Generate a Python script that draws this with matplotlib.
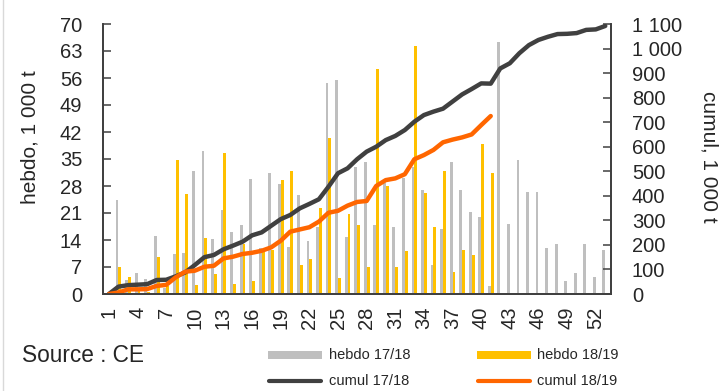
import numpy as np
import matplotlib
matplotlib.use("Agg")
import matplotlib.pyplot as plt
from matplotlib import font_manager
from matplotlib.patches import Rectangle
from matplotlib.lines import Line2D

# ---------------- data ----------------
week_labels = [str(i) for i in range(1, 54)]  # category labels
tick_every = 3

hebdo_1718 = [0, 24.5, 3.6, 5.5, 3.8, 15.0, 1.5, 10.4, 10.7, 31.8, 37.2,
              14.3, 21.7, 16.0, 17.8, 29.8, 12.0, 31.5, 28.4, 12.2, 25.6,
              13.8, 17.5, 54.8, 55.5, 14.7, 33.0, 34.2, 17.8, 28.9, 17.5,
              30.2, 32.8, 27.0, 7.6, 16.8, 34.2, 26.9, 21.3, 19.9, 2.2,
              65.3, 18.2, 34.7, 26.5, 26.5, 11.8, 12.9, 3.4, 5.4, 12.9,
              4.4, 11.5]
hebdo_1819 = [0, 6.9, 4.4, 1.0, 0.5, 9.7, 2.0, 34.7, 25.9, 2.3, 14.6,
              5.2, 36.5, 2.6, 13.0, 3.3, 11.0, 11.4, 29.5, 31.8, 7.5,
              9.0, 22.4, 40.4, 4.1, 20.7, 17.8, 6.9, 58.3, 28.0, 6.9,
              11.1, 64.3, 26.3, 17.5, 31.9, 5.8, 11.5, 10.0, 38.9, 31.5]
cumul_1718 = [0, 30, 36, 38, 40, 57, 58, 72, 88, 118, 150, 159, 182, 197,
              213, 239, 251, 278, 305, 322, 349, 367, 386, 437, 492, 512,
              549, 580, 600, 627, 644, 668, 702, 729, 743, 755, 784, 813,
              835, 858, 857, 919, 940, 981, 1014, 1035, 1048, 1059, 1060,
              1063, 1076, 1078, 1092]
cumul_1819 = [0, 6, 19, 19, 20, 33, 37, 68, 91, 95, 111, 115, 145, 152,
              163, 168, 176, 190, 217, 254, 263, 272, 295, 331, 339, 360,
              375, 379, 440, 464, 471, 488, 549, 566, 587, 618, 629, 638,
              650, 688, 725]

left_ticks = list(range(0, 71, 7))
right_ticks = list(range(0, 1101, 100))
right_tick_labels = ["0", "100", "200", "300", "400", "500", "600", "700",
                     "800", "900", "1 000", "1 100"]

labels_text = ["hebdo 17/18", "hebdo 18/19", "cumul 17/18", "cumul 18/19"]
source_text = "Source : CE"
ylabel_left = "hebdo, 1 000 t"
ylabel_right = "cumul, 1 000 t"

# ---------------- style ----------------
C_GRAY = "#BFBFBF"
C_YEL = "#FFC000"
C_DARK = "#404040"
C_ORG = "#FF6600"
C_TXT = "#262626"

def has_font(name):
    try:
        font_manager.findfont(font_manager.FontProperties(family=name),
                              fallback_to_default=False)
        return True
    except Exception:
        return False

BASE = ["Liberation Sans", "DejaVu Sans"]
NARROW = ["Liberation Sans Narrow"] + BASE if has_font("Liberation Sans Narrow") else BASE
legend_size = 12.5 if NARROW[0] == "Liberation Sans Narrow" else 10.5
plt.rcParams["font.family"] = BASE

W, H = 721, 391
fig = plt.figure(figsize=(W / 100, H / 100), dpi=100)
x0, x1, y0, y1 = 103, 611, 24, 294
ax = fig.add_axes([x0 / W, 1 - y1 / H, (x1 - x0) / W, (y1 - y0) / H])
ax2 = ax.twinx()

n = len(hebdo_1718)
x = np.arange(n)
bw = 0.30
ax.bar(x - 0.15, hebdo_1718, width=bw, color=C_GRAY, linewidth=0)
ax.bar(np.arange(len(hebdo_1819)) + 0.15, hebdo_1819, width=bw,
       color=C_YEL, linewidth=0)

ax2.plot(np.arange(len(cumul_1718)), cumul_1718, color=C_DARK, lw=3.2,
         solid_joinstyle="round", solid_capstyle="round")
ax2.plot(np.arange(len(cumul_1819)), cumul_1819, color=C_ORG, lw=3.2,
         solid_joinstyle="round", solid_capstyle="round")

ax.set_xlim(-0.62, n - 1 + 0.6)
ax.set_ylim(0, 70)
ax2.set_ylim(0, 1100)

ax.set_yticks(left_ticks)
ax.set_yticklabels([str(t) for t in left_ticks])
ax2.set_yticks(right_ticks)
ax2.set_yticklabels(right_tick_labels)

xt = list(range(0, n - 1, tick_every))
ax.set_xticks(xt)
ax.set_xticklabels([week_labels[i] for i in xt], rotation=90, va="top",
                   ha="center")

for a in (ax, ax2):
    for s in a.spines.values():
        s.set_color(C_DARK)
        s.set_linewidth(1.3)
    a.spines["top"].set_visible(False)
    a.tick_params(labelsize=14.5, labelcolor=C_TXT, colors=C_DARK)

ax.tick_params(axis="y", direction="in", length=6, width=1.1, pad=15)
ax2.tick_params(axis="y", direction="in", length=6, width=1.1, pad=15)
ax.tick_params(axis="x", length=0, pad=9)

fig.text(30 / W, 1 - 137 / H, ylabel_left, rotation=90, ha="center",
         va="center", fontsize=15, color=C_TXT)
fig.text(709 / W, 1 - 157 / H, ylabel_right, rotation=-90, ha="center",
         va="center", fontsize=15, color=C_TXT)

# footer: source + legend
fig.text(22 / W, 1 - 356 / H, source_text, ha="left", va="center",
         fontsize=16.3, color=C_TXT)

def px_rect(xa, ya, w, h, color):
    fig.add_artist(Rectangle((xa / W, 1 - (ya + h) / H), w / W, h / H,
                             transform=fig.transFigure, color=color, lw=0))

def px_line(xa, xb, yy, color):
    fig.add_artist(Line2D([xa / W, xb / W], [1 - yy / H, 1 - yy / H],
                          transform=fig.transFigure, color=color, lw=3.0,
                          solid_capstyle="round"))

px_rect(268, 351, 54, 8, C_GRAY)
px_rect(477, 351, 54, 8, C_YEL)
px_line(269, 321, 381, C_DARK)
px_line(478, 530, 381, C_ORG)
for (tx, ty), t in zip([(329, 355), (537, 355), (329, 381), (537, 381)],
                       labels_text):
    fig.text(tx / W, 1 - ty / H, t, ha="left", va="center",
             fontsize=legend_size, color=C_TXT, family=NARROW)

# chart frame left edge
fig.add_artist(Line2D([3.5 / W, 3.5 / W], [0, 1], transform=fig.transFigure,
                      color="#D9D9D9", lw=1))

fig.savefig("out.png", dpi=100)
